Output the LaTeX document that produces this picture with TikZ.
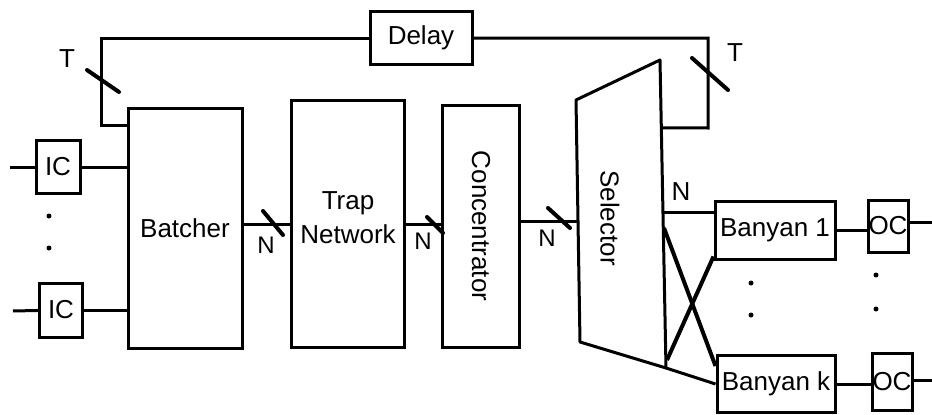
\documentclass[tikz,border=0pt]{standalone}
\usepackage{fontspec}
\setmainfont{Liberation Sans}
\usetikzlibrary{positioning,calc}

\begin{document}
\begin{tikzpicture}[
    x=1pt,y=-1pt,
    block/.style={rectangle,draw,line width=3pt,inner sep=0pt,font=\fontsize{26}{34}\selectfont,align=center},
    wire/.style={line width=3pt},
    busmark/.style={line width=4pt,line cap=round},
    tag/.style={font=\fontsize{26}{34}\selectfont},
    smalltag/.style={font=\fontsize{24}{26}\selectfont}
]
    \useasboundingbox[fill=white] (0,0) rectangle (932,415);

    % Input controllers and sorter
    \node[block,minimum width=44pt,minimum height=53pt] (ic1) at (58,167) {IC};
    \node[block,minimum width=43pt,minimum height=54pt] (ic2) at (61,310) {IC};
    \node[block,minimum width=114pt,minimum height=240pt] (batcher) at (185,228) {Batcher};
    \coordinate (in1) at (10,167);
    \coordinate (in2) at (13,311);
    \draw[wire] (in1) -- (ic1);
    \draw[wire] (ic1) -- (ic1 -| batcher.west);
    \draw[wire] (in2) -- (ic2);
    \draw[wire] (ic2) -- (ic2 -| batcher.west);
    \foreach \p in {(49,216),(49,248)}
        \fill \p circle (2.5pt);

    % Trap network and concentrator
    \node[block,minimum width=113pt,minimum height=247pt,label={[tag,align=center,yshift=6pt]center:Trap\\Network}] (trap) at (348,224) {};
    \node[block,minimum width=77pt,minimum height=242pt,label={[tag,rotate=-90]center:Concentrator}] (conc) at (481,226) {};

    % Selector
    \coordinate (sel-nw) at (576,100);
    \coordinate (sel-ne) at (660,60);
    \coordinate (sel-se) at (666,368);
    \coordinate (sel-sw) at (580,342);
    \draw[wire,line join=round] (sel-nw) -- (sel-ne) -- (sel-se) -- (sel-sw) -- cycle;
    \node[tag,rotate=-90] (sel) at (610,218) {Selector};

    % N-wide links
    \draw[wire] (batcher.east |- trap.west) -- (trap.west);
    \coordinate (b1) at (273,223);
    \draw[busmark] ($(b1)+(-10,-12)$) -- ($(b1)+(10,12)$);
    \node[smalltag] (n1) at (266,245) {N};

    \draw[wire] (trap.east) -- (trap.east -| conc.west);
    \coordinate (b2) at (435,225);
    \draw[busmark] ($(b2)+(-8,-8)$) -- ($(b2)+(8,8)$);
    \node[smalltag] (n2) at (423,241) {N};

    \coordinate (sel-in) at (577,221);
    \draw[wire] (sel-in -| conc.east) -- (sel-in);
    \coordinate (b3) at (559,218);
    \draw[busmark] ($(b3)+(-11,-10)$) -- ($(b3)+(11,10)$);
    \node[smalltag] (n3) at (547,238) {N};

    % Recirculation loop
    \node[block,minimum width=102pt,minimum height=53pt] (delay) at (421,38) {Delay};
    \coordinate (fb-in) at (128,125);
    \coordinate (fb-l) at (101,38);
    \coordinate (fb-r) at (708,128);
    \coordinate (fb-out) at ($(sel-ne)!0.22!(sel-se)$);
    \draw[wire] (fb-in) -| (fb-l) -- (delay.west);
    \draw[wire] (delay.east) -| (fb-r) -- (fb-out);
    \coordinate (t1) at (103,81);
    \draw[busmark] ($(t1)+(-16,-11)$) -- ($(t1)+(16,11)$);
    \node[tag] (t1-lbl) at (67,59) {T};
    \coordinate (t2) at (710,74);
    \draw[busmark] ($(t2)+(-18,-16)$) -- ($(t2)+(18,16)$);
    \node[tag] (t2-lbl) at (735,53) {T};

    % Banyan planes and output controllers
    \node[block,minimum width=120pt,minimum height=58pt] (banyan1) at (775,230) {Banyan 1};
    \node[block,minimum width=118pt,minimum height=57pt] (banyank) at (776,384) {Banyan k};
    \node[block,minimum width=40pt,minimum height=52pt] (oc1) at (888,226) {OC};
    \node[block,minimum width=40pt,minimum height=57pt] (ock) at (892,382) {OC};

    \coordinate (sel-o1) at (663,212);
    \coordinate (sel-o2) at (664,228);
    \coordinate (sel-o3) at (667,360);
    \draw[wire] (sel-o1) -- (sel-o1 -| banyan1.west);
    \node[tag] (n4) at (681,192) {N};
    \draw[wire,line width=4pt] (sel-o2) -- ($(banyank.north west)+(0,12)$);
    \draw[wire,line width=4pt] (sel-o3) -- ($(banyan1.south west)+(0,-4)$);
    \draw[wire] (sel-se) -- (banyank.west);

    \draw[wire] (banyan1.east) -- (banyan1.east -| oc1.west);
    \draw[wire] (banyank.east) -- (banyank.east -| ock.west);
    \coordinate (out1) at (932,222);
    \coordinate (outk) at (932,380);
    \draw[wire] (oc1.east |- out1) -- (out1);
    \draw[wire] (ock.east |- outk) -- (outk);
    \foreach \p in {(751,283),(751,315),(876,275),(876,309)}
        \fill \p circle (2.5pt);
\end{tikzpicture}
\end{document}
